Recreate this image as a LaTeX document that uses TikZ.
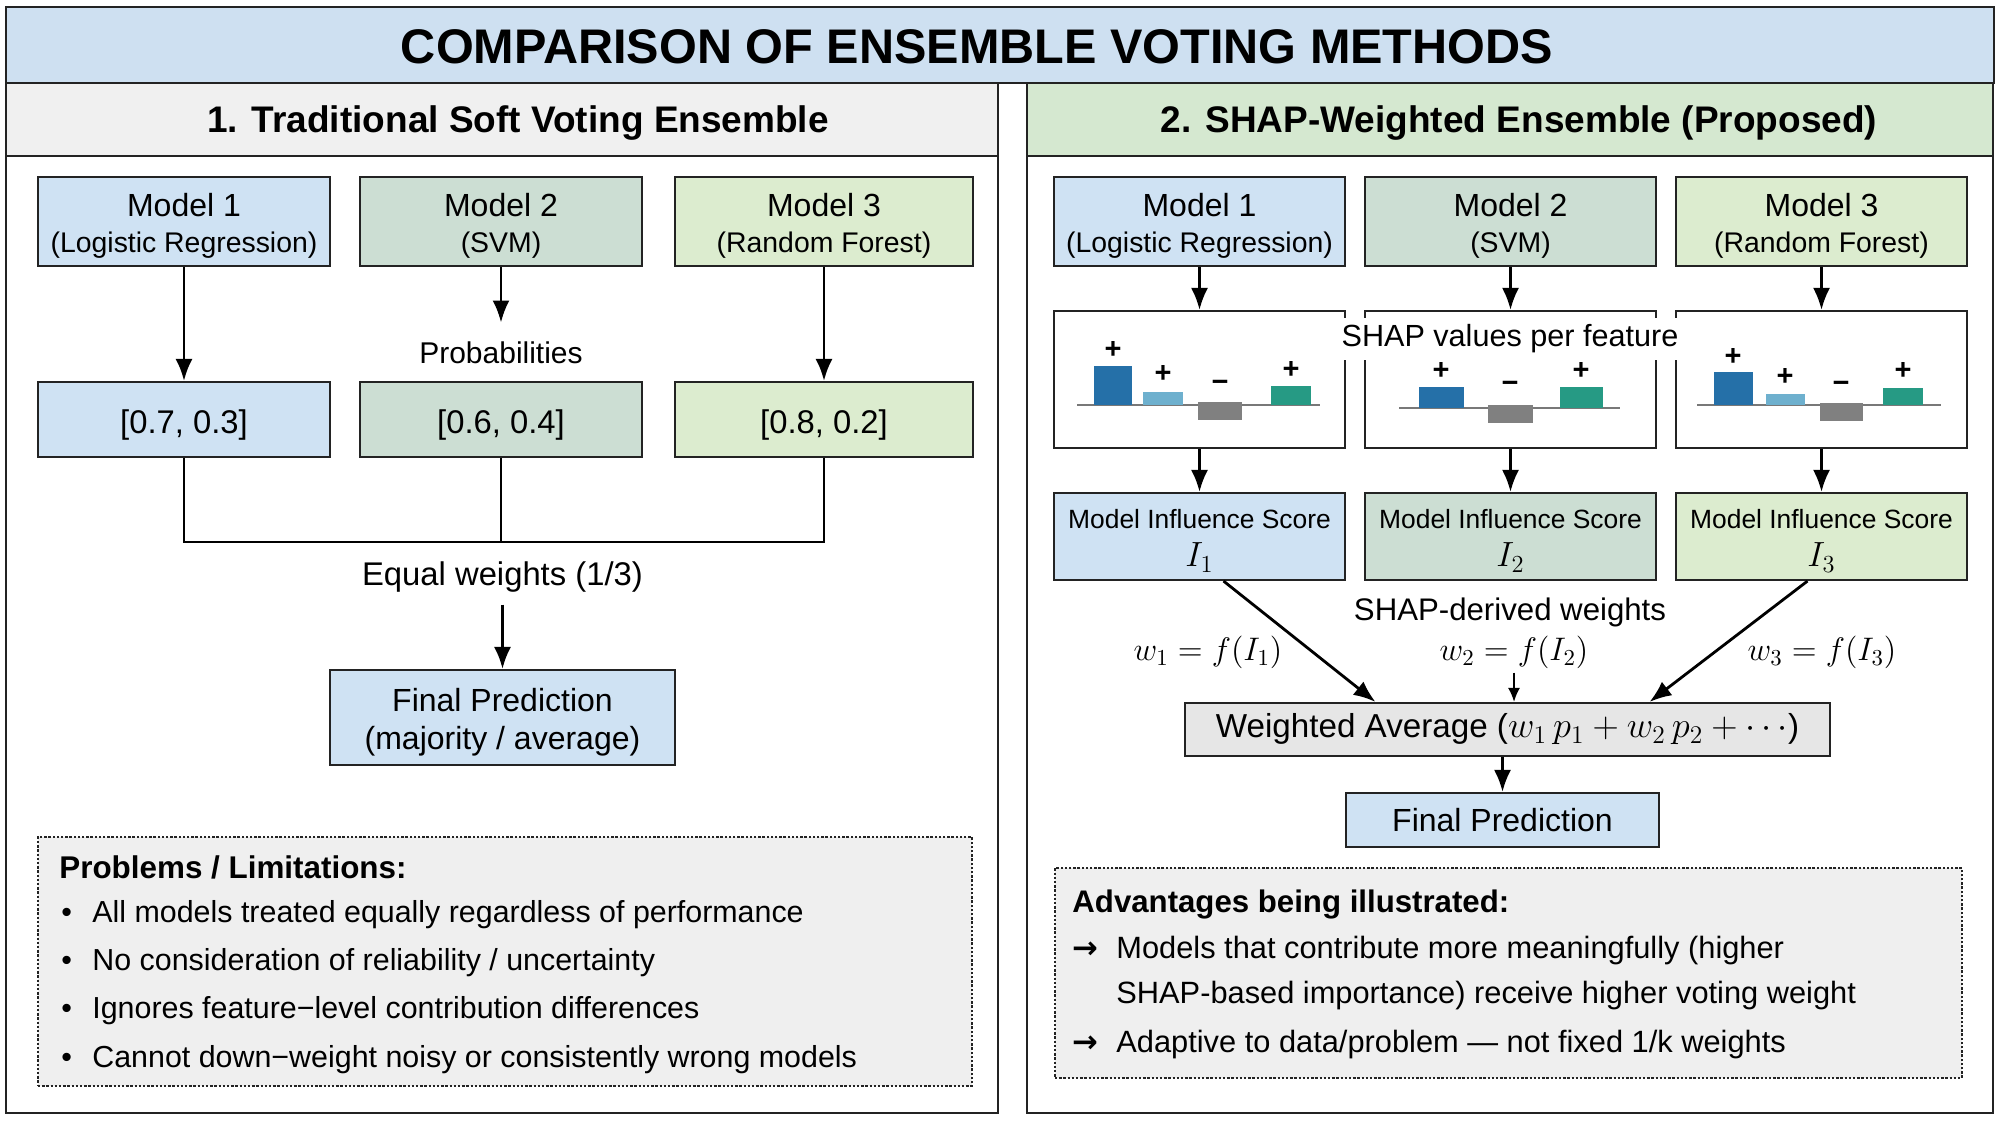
\RequirePackage{fix-cm}
\documentclass[tikz,border=0pt]{standalone}
\usepackage{fontspec}
\setmainfont{Liberation Sans}
\newfontfamily\arrowfont{DejaVu Sans}
\usetikzlibrary{arrows.meta}
\definecolor{titleblue}{RGB}{206,224,241}
\definecolor{mblue}{RGB}{207,226,243}
\definecolor{msage}{RGB}{204,222,211}
\definecolor{mgreen}{RGB}{220,236,207}
\definecolor{hdrgray}{RGB}{240,240,240}
\definecolor{hdrgreen}{RGB}{213,232,208}
\definecolor{notegray}{RGB}{239,239,239}
\definecolor{wagray}{RGB}{230,230,230}
\definecolor{bardark}{RGB}{37,112,168}
\definecolor{barlight}{RGB}{110,176,206}
\definecolor{bargray}{RGB}{128,128,128}
\definecolor{barteal}{RGB}{38,154,132}
\definecolor{basegray}{RGB}{120,120,120}
\definecolor{edge}{RGB}{35,35,35}
\newcommand{\fsz}[2]{\fontsize{#1}{#2}\selectfont}
\newcommand{\upstrut}[1]{\rule{0pt}{#1}}
\begin{document}
\begin{tikzpicture}[x=0.5pt,y=-0.5pt,
  frame/.style={draw=edge, line width=1.2pt, inner sep=0pt},
  box/.style={draw=edge, line width=1.05pt, inner sep=0pt, align=center},
  mdl/.style={box, minimum height=44.5pt, font=\fsz{16}{18}},
  prb/.style={box, minimum height=37.5pt, font=\fsz{16.4}{18}, text height=15pt, text depth=1.2pt},
  shp/.style={box, fill=white, minimum width=145.5pt, minimum height=68.5pt},
  inf/.style={box, minimum width=145.5pt, minimum height=43.5pt, font=\fsz{13.2}{19}},
  note/.style={draw=edge, line width=0.6pt, dash pattern=on 1.2pt off 0.9pt, fill=notegray, inner sep=0pt},
  lbl/.style={inner sep=0pt, font=\fsz{15.3}{18}},
  txtline/.style={anchor=west, inner sep=0pt, font=\fsz{15.2}{18}},
  sign/.style={inner sep=0pt, font=\fsz{14.5}{16}\bfseries},
  mathlbl/.style={inner xsep=0pt, inner ysep=2pt, font=\fsz{16.3}{18}},
  arr/.style={-{Latex[length=11pt,width=8.5pt]}, line width=1.4pt, draw=black},
  thinarr/.style={-{Latex[length=7pt,width=6pt]}, line width=1pt, draw=black},
  conn/.style={line width=1.4pt, draw=black},
  basel/.style={draw=basegray, line width=1pt},
]
\useasboundingbox (0,0) rectangle (2008,1124);
\fill[white] (0,0) rectangle (2008,1124);

% ---------- panels ----------
\node[frame, fill=white, minimum width=496pt, minimum height=515pt] (lpanel) at (502,598) {};
\node[frame, fill=white, minimum width=483pt, minimum height=515pt] (rpanel) at (1510,598) {};
\node[frame, fill=hdrgray, minimum width=496pt, minimum height=36.5pt] (lhead) at (502,119.5) {};
\node[frame, fill=hdrgreen, minimum width=483pt, minimum height=36.5pt] (rhead) at (1510,119.5) {};
\node[frame, fill=titleblue, line width=1.4pt, minimum width=994pt, minimum height=38pt] (ttlbox) at (1000,45) {};
\node[inner sep=0pt, font=\fsz{24.3}{28}\bfseries] (ttl) at (977,47) {COMPARISON OF ENSEMBLE VOTING METHODS};
\node[inner sep=0pt, font=\fsz{18.5}{22}\bfseries] (lht) at (518,123) {1. Traditional Soft Voting Ensemble};
\node[inner sep=0pt, font=\fsz{18.5}{22}\bfseries] (rht) at (1519,123) {2. SHAP-Weighted Ensemble (Proposed)};

% ---------- left: traditional ----------
\node[mdl, fill=mblue, minimum width=146pt] (lm1) at (184,221.5) {\upstrut{15.5pt}Model 1\\{\fsz{14.2}{18}(Logistic Regression)}};
\node[mdl, fill=msage, minimum width=141pt] (lm2) at (501,221.5) {\upstrut{15.5pt}Model 2\\{\fsz{14.2}{18}(SVM)}};
\node[mdl, fill=mgreen, minimum width=149pt] (lm3) at (824,221.5) {\upstrut{15.5pt}Model 3\\{\fsz{14.2}{18}(Random Forest)}};

\node[prb, fill=mblue, minimum width=146pt] (lp1) at (184,419.5) {[0.7, 0.3]};
\node[prb, fill=msage, minimum width=141pt] (lp2) at (501,419.5) {[0.6, 0.4]};
\node[prb, fill=mgreen, minimum width=149pt] (lp3) at (824,419.5) {[0.8, 0.2]};

\node[lbl, font=\fsz{15}{18}, inner ysep=9.5pt] (plab) at (501,353) {Probabilities};

\draw[arr] (lm1.south) -- (lp1.north);
\draw[arr] (lm2.south) -- (plab.north);
\draw[arr] (lm3.south) -- (lp3.north);

\coordinate (ljoin) at (501,542);
\draw[conn] (lp1.south) |- (ljoin) -| (lp3.south);
\draw[conn] (lp2.south) -- (lp2.south |- ljoin);

\node[lbl, font=\fsz{16.4}{18}, inner ysep=6pt] (eqlab) at (502.5,577) {Equal weights (1/3)};
\node[box, fill=mblue, minimum width=172.5pt, minimum height=47.5pt, font=\fsz{16}{19}] (lfin) at (502.5,717.5) {\upstrut{16pt}Final Prediction\\(majority / average)};
\draw[arr] (eqlab.south) -- (lfin.north);

\node[note, minimum width=467pt, minimum height=124.5pt] (probbox) at (505,961.5) {};
\node[txtline, font=\fsz{15.7}{18}\bfseries] (probt) at (59,867) {Problems / Limitations:};
\node[txtline] (pb1) at (61,915) {\makebox[15.5pt][l]{•}All models treated equally regardless of performance};
\node[txtline] (pb2) at (61,963) {\makebox[15.5pt][l]{•}No consideration of reliability / uncertainty};
\node[txtline] (pb3) at (61,1011) {\makebox[15.5pt][l]{•}Ignores feature−level contribution differences};
\node[txtline] (pb4) at (61,1060) {\makebox[15.5pt][l]{•}Cannot down−weight noisy or consistently wrong models};

% ---------- right: SHAP-weighted ----------
\node[mdl, fill=mblue, minimum width=145.5pt] (rm1) at (1199.5,221.5) {\upstrut{15.5pt}Model 1\\{\fsz{14.2}{18}(Logistic Regression)}};
\node[mdl, fill=msage, minimum width=145.5pt] (rm2) at (1510.5,221.5) {\upstrut{15.5pt}Model 2\\{\fsz{14.2}{18}(SVM)}};
\node[mdl, fill=mgreen, minimum width=145.5pt] (rm3) at (1821.5,221.5) {\upstrut{15.5pt}Model 3\\{\fsz{14.2}{18}(Random Forest)}};

\node[shp] (s1) at (1199.5,379.5) {};
\node[shp] (s2) at (1510.5,379.5) {};
\node[shp] (s3) at (1821.5,379.5) {};

% bars, box 1
\draw[basel] (1077,405) -- (1320,405);
\fill[bardark] (1094,366) rectangle (1132,405);
\fill[barlight] (1143,392) rectangle (1183,405);
\fill[bargray] (1198,402) rectangle (1242,420);
\fill[barteal] (1271,386) rectangle (1311,405);
\node[sign] (s1a) at (1113,350) {+};
\node[sign] (s1b) at (1163,374) {+};
\node[sign] (s1c) at (1220,386) {−};
\node[sign] (s1d) at (1291,370) {+};
% bars, box 2
\draw[basel] (1399,408) -- (1620,408);
\fill[bardark] (1419,387) rectangle (1464,408);
\fill[bargray] (1488,405) rectangle (1533,423);
\fill[barteal] (1560,387) rectangle (1603,408);
\node[sign] (s2a) at (1441,371) {+};
\node[sign] (s2c) at (1510,387) {−};
\node[sign] (s2d) at (1581,371) {+};
% bars, box 3
\draw[basel] (1697,405) -- (1941,405);
\fill[bardark] (1714,372) rectangle (1753,405);
\fill[barlight] (1766,394) rectangle (1805,405);
\fill[bargray] (1820,403) rectangle (1863,421);
\fill[barteal] (1883,388) rectangle (1923,405);
\node[sign] (s3a) at (1733,357) {+};
\node[sign] (s3b) at (1785,377) {+};
\node[sign] (s3c) at (1841,387) {−};
\node[sign] (s3d) at (1903,371) {+};

\node[lbl, fill=white, inner xsep=2pt, inner ysep=0pt, minimum height=21pt] (shaplab) at (1510,339) {SHAP values per feature};

\node[inf, fill=mblue] (i1) at (1199.5,536.5) {\upstrut{14pt}Model Influence Score\\{\fsz{17.5}{19}$I_1$}};
\node[inf, fill=msage] (i2) at (1510.5,536.5) {\upstrut{14pt}Model Influence Score\\{\fsz{17.5}{19}$I_2$}};
\node[inf, fill=mgreen] (i3) at (1821.5,536.5) {\upstrut{14pt}Model Influence Score\\{\fsz{17.5}{19}$I_3$}};

\foreach \k in {1,2,3}{
  \draw[arr] (rm\k.south) -- (s\k.north);
  \draw[arr] (s\k.south) -- (i\k.north);
}

\node[lbl, font=\fsz{15.6}{18}] (sdw) at (1510,612) {SHAP-derived weights};
\node[mathlbl] (w1) at (1208,652) {$w_1 = f(I_1)$};
\node[mathlbl] (w2) at (1514,652) {$w_2 = f(I_2)$};
\node[mathlbl] (w3) at (1822,652) {$w_3 = f(I_3)$};

\node[box, fill=wagray, minimum width=322.5pt, minimum height=26.5pt, font=\fsz{16.6}{18}] (wa) at (1507.5,729.5) {Weighted Average ({\fsz{18.2}{18}$w_1\,p_1 + w_2\,p_2 + \cdots$})};
\node[box, fill=mblue, minimum width=156.5pt, minimum height=27pt, font=\fsz{16}{18}] (rfin) at (1502.5,820) {Final Prediction};

\draw[arr] ([xshift=12pt]i1.south) -- ([xshift=-66pt]wa.north);
\draw[arr] ([xshift=-7pt]i3.south) -- ([xshift=71pt]wa.north);
\draw[thinarr] (w2.south) -- (w2.south |- wa.north);
\draw[arr] (rfin.north |- wa.south) -- (rfin.north);

\node[note, minimum width=453.5pt, minimum height=105pt] (advbox) at (1508.5,973) {};
\node[txtline, font=\fsz{15.6}{18}\bfseries] (advt) at (1072,904) {Advantages being illustrated:};
\node[txtline, font=\fsz{15.4}{18}] (ab1) at (1072,951) {\makebox[22pt][l]{\arrowfont\bfseries →}Models that contribute more meaningfully (higher};
\node[txtline, font=\fsz{15.4}{18}] (ab2) at (1116,996) {SHAP-based importance) receive higher voting weight};
\node[txtline, font=\fsz{15.4}{18}] (ab3) at (1072,1045) {\makebox[22pt][l]{\arrowfont\bfseries →}Adaptive to data/problem — not fixed 1/k weights};
\end{tikzpicture}
\end{document}
